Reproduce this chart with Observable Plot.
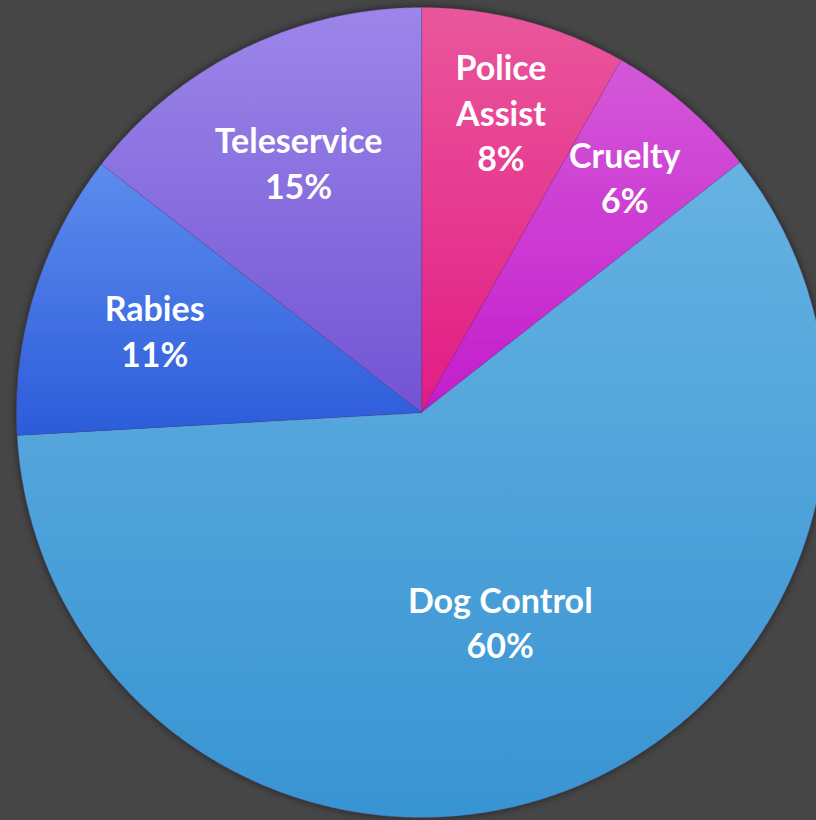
<!DOCTYPE html>
<html>
<head>
<meta charset="utf-8">
<script src="https://cdn.jsdelivr.net/npm/d3@7"></script>
<script src="https://cdn.jsdelivr.net/npm/@observablehq/plot@0.6"></script>
<style>
  html, body { margin: 0; padding: 0; background: #464646; overflow: hidden; }
  #chart svg { overflow: hidden; display: block; }
</style>
</head>
<body>
<div id="chart"></div>
<script>
// Data (clockwise from 12 o'clock)
const categories = ["Police Assist", "Cruelty", "Dog Control", "Rabies", "Teleservice"];
const shares = [8.2, 6.2, 59.7, 11.4, 14.5];
const labelText = ["Police\nAssist", "Cruelty", "Dog Control", "Rabies", "Teleservice"];
const topColors = ["#ea579c", "#d458d8", "#66b2e2", "#5d8cee", "#9c86e9"];
const bottomColors = ["#e21c84", "#c41ccd", "#3894d2", "#2c5cda", "#7254d4"];

const W = 816, H = 820;
const CX = 421, CY = 412, R = 405;

const pie = d3.pie().sort(null).value(d => d.share)(
  categories.map((c, i) => ({category: c, share: shares[i], label: labelText[i], i}))
);

// Build arc polygons in unit coordinates (x right, y up)
function arcPoints(s) {
  const pts = [{x: 0, y: 0}];
  const n = Math.max(2, Math.ceil((s.endAngle - s.startAngle) / 0.005));
  for (let k = 0; k <= n; k++) {
    const a = s.startAngle + (s.endAngle - s.startAngle) * k / n;
    pts.push({x: Math.sin(a), y: Math.cos(a)});
  }
  return pts;
}

const labels = pie.map(s => {
  const a = (s.startAngle + s.endAngle) / 2;
  const frac = s.data.share / 100;
  const r = frac > 0.3 ? 0.55 : frac > 0.1 ? 0.69 : 0.77;
  const pct = Math.round(s.data.share) + "%";
  return {x: r * Math.sin(a), y: r * Math.cos(a), text: s.data.label + "\n" + pct};
});

const svgNS = "http://www.w3.org/2000/svg";
const defsMark = () => {
  const defs = document.createElementNS(svgNS, "defs");
  categories.forEach((c, i) => {
    const g = document.createElementNS(svgNS, "linearGradient");
    g.setAttribute("id", "grad" + i);
    g.setAttribute("x1", "0"); g.setAttribute("y1", "0");
    g.setAttribute("x2", "0"); g.setAttribute("y2", "1");
    const s1 = document.createElementNS(svgNS, "stop");
    s1.setAttribute("offset", "0"); s1.setAttribute("stop-color", topColors[i]);
    const s2 = document.createElementNS(svgNS, "stop");
    s2.setAttribute("offset", "1"); s2.setAttribute("stop-color", bottomColors[i]);
    g.appendChild(s1); g.appendChild(s2);
    defs.appendChild(g);
  });
  const f = document.createElementNS(svgNS, "filter");
  f.setAttribute("id", "shadow");
  f.setAttribute("x", "-10%"); f.setAttribute("y", "-10%");
  f.setAttribute("width", "120%"); f.setAttribute("height", "120%");
  f.innerHTML = '<feDropShadow dx="0" dy="0" stdDeviation="4" flood-color="#000" flood-opacity="0.55"/>';
  defs.appendChild(f);
  return defs;
};

const sliceMarks = pie.map((s, i) =>
  Plot.line(arcPoints(s), {
    x: "x", y: "y",
    curve: "linear-closed",
    fill: `url(#grad${i})`,
    stroke: "#5a3a7a",
    strokeOpacity: 0.4,
    strokeWidth: 0.7
  })
);

const plot = Plot.plot({
  width: W, height: H,
  marginTop: 0, marginRight: 0, marginBottom: 0, marginLeft: 0,
  style: {background: "#464646", overflow: "hidden"},
  x: {domain: [-CX / R, (W - CX) / R], axis: null},
  y: {domain: [-(H - CY) / R, CY / R], axis: null},
  marks: [
    defsMark,
    ...sliceMarks,
    Plot.text(labels, {
      x: "x", y: "y", text: "text",
      fill: "white",
      fontSize: 34,
      fontWeight: "bold",
      fontFamily: "Lato",
      lineHeight: 1.34
    })
  ]
});

// wrap all slice groups into one group carrying the drop shadow
const gs = Array.from(plot.querySelectorAll('g[aria-label="line"]'));
if (gs.length) {
  const wrap = document.createElementNS(svgNS, "g");
  wrap.setAttribute("filter", "url(#shadow)");
  gs[0].parentNode.insertBefore(wrap, gs[0]);
  gs.forEach(g => wrap.appendChild(g));
}

document.getElementById("chart").appendChild(plot);
</script>
</body>
</html>
